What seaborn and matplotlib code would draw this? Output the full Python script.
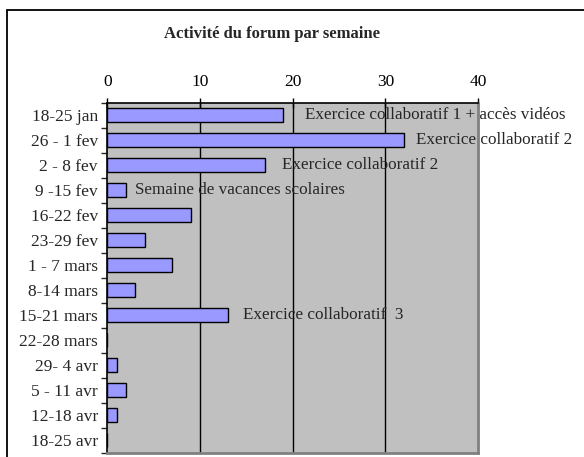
import numpy as np
import pandas as pd
import seaborn as sns
import matplotlib.pyplot as plt
from matplotlib.patches import Rectangle
from matplotlib.ticker import FixedLocator

semaines = ['18-25 jan', '26 - 1 fev', '2 - 8 fev', '9 -15 fev', '16-22 fev',
            '23-29 fev', '1 - 7 mars', '8-14 mars', '15-21 mars', '22-28 mars',
            '29- 4 avr', '5 - 11 avr', '12-18 avr', '18-25 avr']
messages = [19, 32, 17, 2, 9, 4, 7, 3, 13, 0, 1, 2, 1, 0]

note_semaines = ['18-25 jan', '26 - 1 fev', '2 - 8 fev', '9 -15 fev', '15-21 mars']
note_textes = ['Exercice collaboratif 1 + accès vidéos', 'Exercice collaboratif 2',
               'Exercice collaboratif 2', 'Semaine de vacances scolaires',
               'Exercice collaboratif  3']

df = pd.DataFrame({'semaine': semaines, 'messages': messages})

sns.set_style('white')
plt.rcParams['font.family'] = ['Liberation Serif', 'DejaVu Serif']

fig = plt.figure(figsize=(5.84, 4.57), dpi=100)
ax = fig.add_axes([107.5 / 584, 1 - 452.5 / 457, 370.5 / 584, 349.5 / 457])

sns.barplot(data=df, x='messages', y='semaine', orient='h', color='#9999FF',
            saturation=1, edgecolor='black', linewidth=1, width=0.56, ax=ax, zorder=3)

ax.set_facecolor('#C0C0C0')
ax.set_xlim(0, 40)
ax.set_ylim(len(semaines) - 0.5, -0.5)
ax.set_xlabel('')
ax.set_ylabel('')

for v in [10, 20, 30]:
    ax.axvline(v, color='black', lw=1, zorder=1)

ax.xaxis.tick_top()
ax.set_xticks([0, 10, 20, 30, 40])
ax.tick_params(axis='x', direction='inout', length=7, width=1, labelsize=12.5,
               pad=6, colors='black')
ax.tick_params(axis='y', which='major', length=0, labelsize=12.5, pad=7)
ax.yaxis.set_minor_locator(FixedLocator(np.arange(-0.5, len(semaines), 1)))
ax.tick_params(axis='y', which='minor', direction='out', length=4, width=1, left=True)

for side in ['left', 'top']:
    ax.spines[side].set_color('black')
    ax.spines[side].set_linewidth(1.2)
for side in ['right', 'bottom']:
    ax.spines[side].set_color('#808080')
    ax.spines[side].set_linewidth(2)

# decalages en pixels apres la fin de la barre
decalages = [22, 12, 17, 9, 15]
for sem, txt, d in zip(note_semaines, note_textes, decalages):
    i = semaines.index(sem)
    ax.annotate(txt, xy=(messages[i], i), xytext=(d * 0.72, 0),
                textcoords='offset points', va='center', ha='left',
                fontsize=12.3, annotation_clip=False, zorder=4)

fig.text(271.5 / 584, 1 - 34 / 457, 'Activité du forum par semaine',
         ha='center', va='center', fontsize=12, fontweight='bold')

fig.patches.append(Rectangle((6.5 / 584, -0.2), 1.5, 1.2 - 10 / 457,
                             transform=fig.transFigure, fill=False,
                             edgecolor='black', lw=1.3))

fig.savefig('out.png', dpi=100)
